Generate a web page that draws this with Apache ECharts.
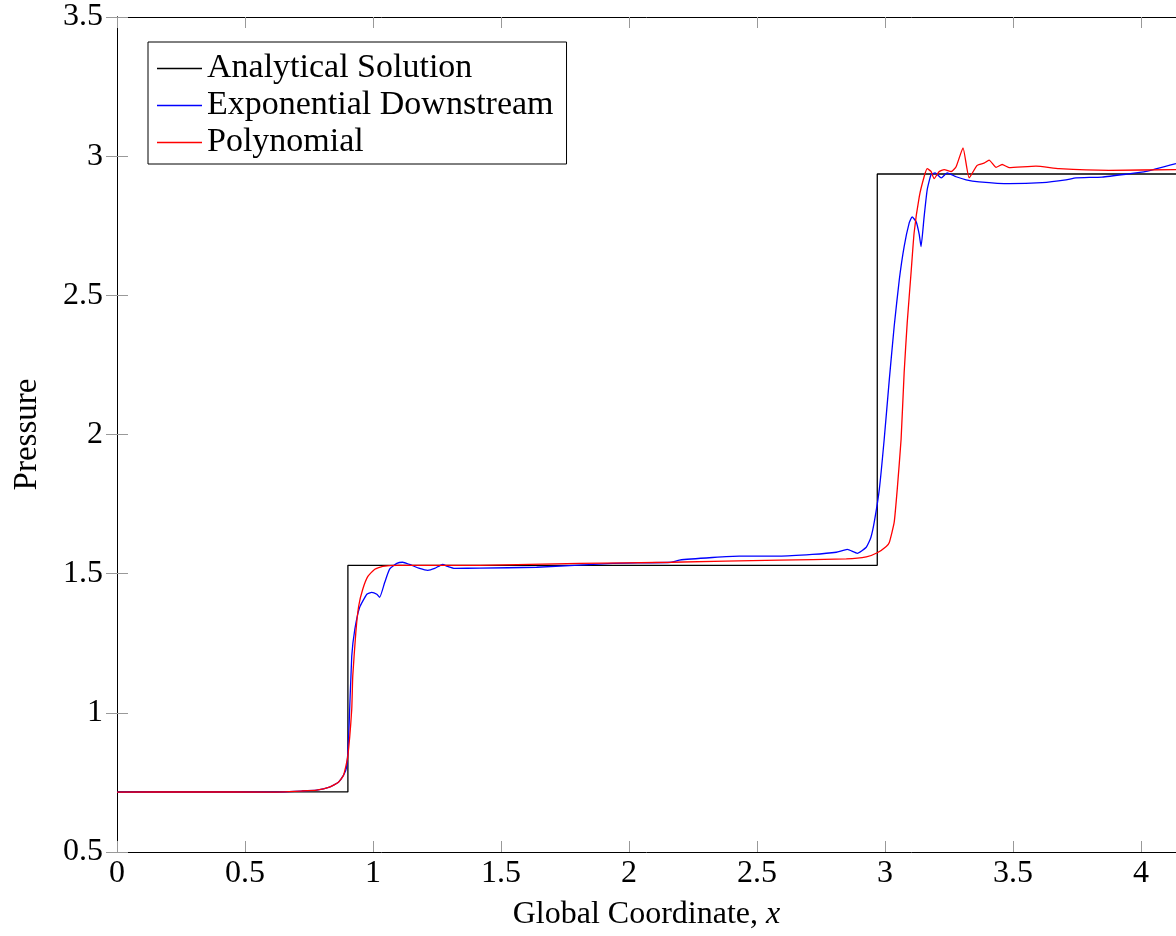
<!DOCTYPE html>
<html>
<head>
<meta charset="utf-8" />
<style>
  html, body { margin: 0; padding: 0; background: #fff; }
  #main { width: 1176px; height: 936px; }
</style>
</head>
<body>
<div id="main"></div>
<script src="https://cdn.jsdelivr.net/npm/echarts@6/dist/echarts.min.js"></script>
<script>
// values
var analyticalX = [0, 0.902, 0.902, 2.970, 2.970, 4.137];
var analyticalP = [0.716, 0.716, 1.530, 1.530, 2.936, 2.936];

var expX = [0, 0.3, 0.6, 0.72, 0.78, 0.83, 0.865, 0.885, 0.897, 0.905, 0.917, 0.929, 0.948, 0.976, 0.995,
  1.015, 1.026, 1.046, 1.065, 1.093, 1.116, 1.143, 1.182, 1.214, 1.241, 1.272, 1.292, 1.319, 1.417,
  1.639, 1.936, 2.166, 2.197, 2.326, 2.431, 2.587, 2.716, 2.810, 2.853, 2.892, 2.927, 2.945, 2.958,
  2.978, 2.997, 3.017, 3.036, 3.056, 3.075, 3.095, 3.106, 3.122, 3.134, 3.141, 3.153, 3.165, 3.180,
  3.196, 3.220, 3.243, 3.278, 3.317, 3.368, 3.485, 3.614, 3.707, 3.746, 3.848, 3.941, 4.020, 4.137];
var expP = [0.715, 0.716, 0.715, 0.719, 0.722, 0.733, 0.751, 0.776, 0.805, 0.916, 1.203, 1.300, 1.379, 1.426, 1.433,
  1.426, 1.415, 1.469, 1.516, 1.537, 1.541, 1.533, 1.519, 1.512, 1.519, 1.533, 1.526, 1.519, 1.520,
  1.523, 1.537, 1.541, 1.549, 1.558, 1.563, 1.563, 1.569, 1.577, 1.587, 1.573, 1.595, 1.630, 1.684,
  1.803, 1.982, 2.197, 2.388, 2.556, 2.675, 2.761, 2.782, 2.764, 2.718, 2.675, 2.782, 2.879, 2.933,
  2.940, 2.922, 2.940, 2.926, 2.915, 2.908, 2.901, 2.905, 2.915, 2.922, 2.925, 2.935, 2.945, 2.973];

var polyX = [0, 0.3, 0.6, 0.72, 0.78, 0.83, 0.865, 0.885, 0.901, 0.917, 0.921, 0.933, 0.944, 0.960, 0.980,
  1.007, 1.038, 1.093, 1.417, 1.807, 2.166, 2.587, 2.849, 2.927, 2.970, 3.005, 3.017, 3.036, 3.048,
  3.063, 3.075, 3.087, 3.102, 3.114, 3.134, 3.153, 3.165, 3.180, 3.192, 3.212, 3.231, 3.259, 3.278,
  3.305, 3.329, 3.360, 3.387, 3.407, 3.434, 3.458, 3.485, 3.590, 3.680, 3.875, 4.137];
var polyP = [0.715, 0.716, 0.715, 0.719, 0.722, 0.733, 0.751, 0.776, 0.840, 1.013, 1.132, 1.289, 1.383, 1.444, 1.490,
  1.516, 1.526, 1.530, 1.530, 1.537, 1.541, 1.549, 1.553, 1.560, 1.575, 1.598, 1.612, 1.684, 1.803,
  1.982, 2.222, 2.402, 2.581, 2.725, 2.854, 2.926, 2.955, 2.945, 2.919, 2.945, 2.952, 2.945, 2.962,
  3.030, 2.922, 2.967, 2.975, 2.986, 2.960, 2.970, 2.959, 2.964, 2.955, 2.949, 2.952];

var xTicks = [0, 0.5, 1, 1.5, 2, 2.5, 3, 3.5, 4];

function pairs(xs, ys) {
  return xs.map(function (x, i) { return [x, ys[i]]; });
}

var FONT = '"Liberation Serif", "DejaVu Serif", serif';
var tickStyle = { show: true, inside: true, length: 11, lineStyle: { color: '#999', width: 1 } };
var lineAxis = { show: true, lineStyle: { color: '#000', width: 1 } };

var chart = echarts.init(document.getElementById('main'));
chart.setOption({
  animation: false,
  grid: { left: 117, top: 17, right: -1, bottom: 83 },
  legend: {
    left: 148, top: 42,
    orient: 'vertical',
    icon: 'rect',
    itemWidth: 45, itemHeight: 1.3, itemGap: 0,
    padding: [8, 13, 3, 9],
    borderColor: '#000', borderWidth: 1,
    backgroundColor: '#fff',
    textStyle: { fontFamily: FONT, fontSize: 34, color: '#000', lineHeight: 37 },
    data: ['Analytical Solution', 'Exponential Downstream', 'Polynomial']
  },
  xAxis: [{
    type: 'value', min: 0, max: 4.137, interval: 0.5,
    axisLine: lineAxis, axisTick: tickStyle, splitLine: { show: false },
    axisLabel: {
      margin: 6, fontFamily: FONT, fontSize: 32, color: '#000', showMaxLabel: false,
      formatter: function (v) { return xTicks.indexOf(+v.toFixed(3)) >= 0 ? String(v) : ''; }
    },
    name: '{a|Global Coordinate, }{b|x}',
    nameLocation: 'middle', nameGap: 47,
    nameTextStyle: {
      rich: {
        a: { fontFamily: FONT, fontSize: 32, color: '#000' },
        b: { fontFamily: FONT, fontSize: 32, color: '#000', fontStyle: 'italic' }
      }
    }
  }, {
    type: 'value', position: 'top', min: 0, max: 4.137, interval: 0.5,
    axisLine: lineAxis, axisTick: tickStyle, axisLabel: { show: false }, splitLine: { show: false }
  }],
  yAxis: [{
    type: 'value', min: 0.5, max: 3.5, interval: 0.5,
    axisLine: lineAxis, axisTick: tickStyle, splitLine: { show: false },
    axisLabel: { margin: 14, fontFamily: FONT, fontSize: 32, color: '#000' },
    name: 'Pressure', nameLocation: 'middle', nameGap: 73, nameRotate: 90,
    nameTextStyle: { fontFamily: FONT, fontSize: 33, color: '#000' }
  }, {
    type: 'value', position: 'right', min: 0.5, max: 3.5, interval: 0.5,
    axisLine: lineAxis, axisTick: tickStyle, axisLabel: { show: false }, splitLine: { show: false }
  }],
  series: [{
    name: 'Analytical Solution', type: 'line', showSymbol: false, symbol: 'none',
    data: pairs(analyticalX, analyticalP),
    lineStyle: { color: '#000', width: 1.3 }, itemStyle: { color: '#000' }
  }, {
    name: 'Exponential Downstream', type: 'line', showSymbol: false, symbol: 'none',
    data: pairs(expX, expP), smooth: 0.15,
    lineStyle: { color: '#0000ff', width: 1.3 }, itemStyle: { color: '#0000ff' }
  }, {
    name: 'Polynomial', type: 'line', showSymbol: false, symbol: 'none',
    data: pairs(polyX, polyP), smooth: 0.15,
    lineStyle: { color: '#ff0000', width: 1.3 }, itemStyle: { color: '#ff0000' }
  }]
});
</script>
</body>
</html>
